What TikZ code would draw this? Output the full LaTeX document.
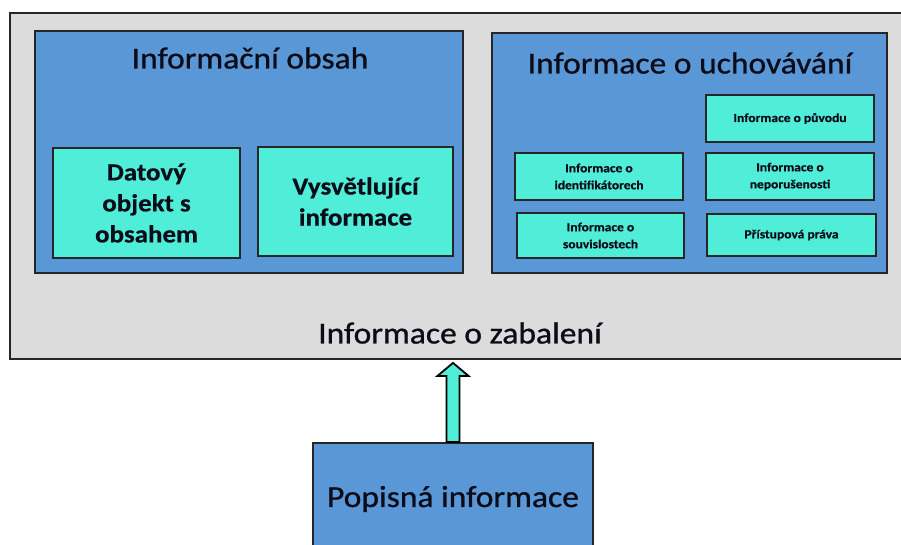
\documentclass[tikz,border=0pt]{standalone}
\usepackage{fontspec}
\setmainfont{Carlito}[FakeStretch=1.1]
\newfontfamily\titlefont{Carlito}[FakeStretch=1.1, FakeBold=0.9]
\newfontfamily\heavyfont{Carlito}[FakeStretch=1.1, BoldFeatures={FakeBold=0.6}]
\usetikzlibrary{calc}
\definecolor{grayfill}{HTML}{DCDCDC}
\definecolor{bluefill}{HTML}{5A97D6}
\definecolor{cyanfill}{HTML}{50EED8}
\definecolor{txt}{HTML}{0C0C18}
\tikzset{
  box/.style={draw=black!85, rectangle, inner sep=0pt, align=center, text=txt},
  outerbox/.style={box, fill=grayfill, line width=1.8pt},
  bluebox/.style={box, fill=bluefill, line width=2pt},
  bigbox/.style={box, fill=cyanfill, line width=2.2pt, font=\heavyfont\fontsize{24.5}{31}\selectfont\bfseries},
  smallbox/.style={box, fill=cyanfill, line width=2.2pt, font=\heavyfont\fontsize{12.3}{17}\selectfont\bfseries},
  title/.style={inner sep=0pt, text=txt, font=\titlefont\fontsize{30.5}{36}\selectfont},
  blockarrow/.style={draw=black, fill=cyanfill, line width=1.8pt, line join=miter}
}
\begin{document}
\begin{tikzpicture}[x=1pt,y={(0pt,-1pt)}]
\useasboundingbox (0,0) rectangle (901,545);
\fill[white] (0,0) rectangle (901,545);
% outer packaging box
\node[outerbox, minimum width=905, minimum height=346] (outer) at (462.5,186) {};
\node[title] (zab) at (460,333) {Informace o zabalení};
% left blue
\node[bluebox, minimum width=428, minimum height=242] (left) at (249,152) {};
\node[title] (t1) at (250,58) {Informační obsah};
\node[bigbox, minimum width=187, minimum height=110] (dat) at (146.5,203) {Datový\\objekt s\\obsahem};
\node[bigbox, minimum width=195, minimum height=109] (vys) at (355.5,201.5) {Vysvětlující\\informace};
% right blue
\node[bluebox, minimum width=395, minimum height=240] (right) at (689.5,153) {};
\node[title] (t2) at (690,63) {Informace o uchovávání};
\node[smallbox, minimum width=168, minimum height=47] (puv) at (790,118.5) {Informace o původu};
\node[smallbox, minimum width=168, minimum height=47] (ide) at (599,176.5) {Informace o\\identifikátorech};
\node[smallbox, minimum width=168, minimum height=47] (nep) at (790,176.5) {Informace o\\neporušenosti};
\node[smallbox, minimum width=167, minimum height=45] (sou) at (600.5,235.5) {Informace o\\souvislostech};
\node[smallbox, minimum width=169, minimum height=42] (pri) at (791.5,235) {Přístupová práva};
% descriptive info
\node[bluebox, minimum width=280, minimum height=117, font=\titlefont\fontsize{30.5}{36}\selectfont, text depth=10pt] (pop) at (453,501.5) {Popisná informace};
% arrow
\coordinate (ab) at (pop.north);
\coordinate (at) at (pop.north |- outer.south);
\draw[blockarrow] ($(ab)+(-6.5,0)$) -- ($(at)+(-6.5,16)$) -- ($(at)+(-15.5,16)$) -- ($(at)+(0,3)$) -- ($(at)+(15.5,16)$) -- ($(at)+(6.5,16)$) -- ($(ab)+(6.5,0)$) -- cycle;
\end{tikzpicture}
\end{document}
